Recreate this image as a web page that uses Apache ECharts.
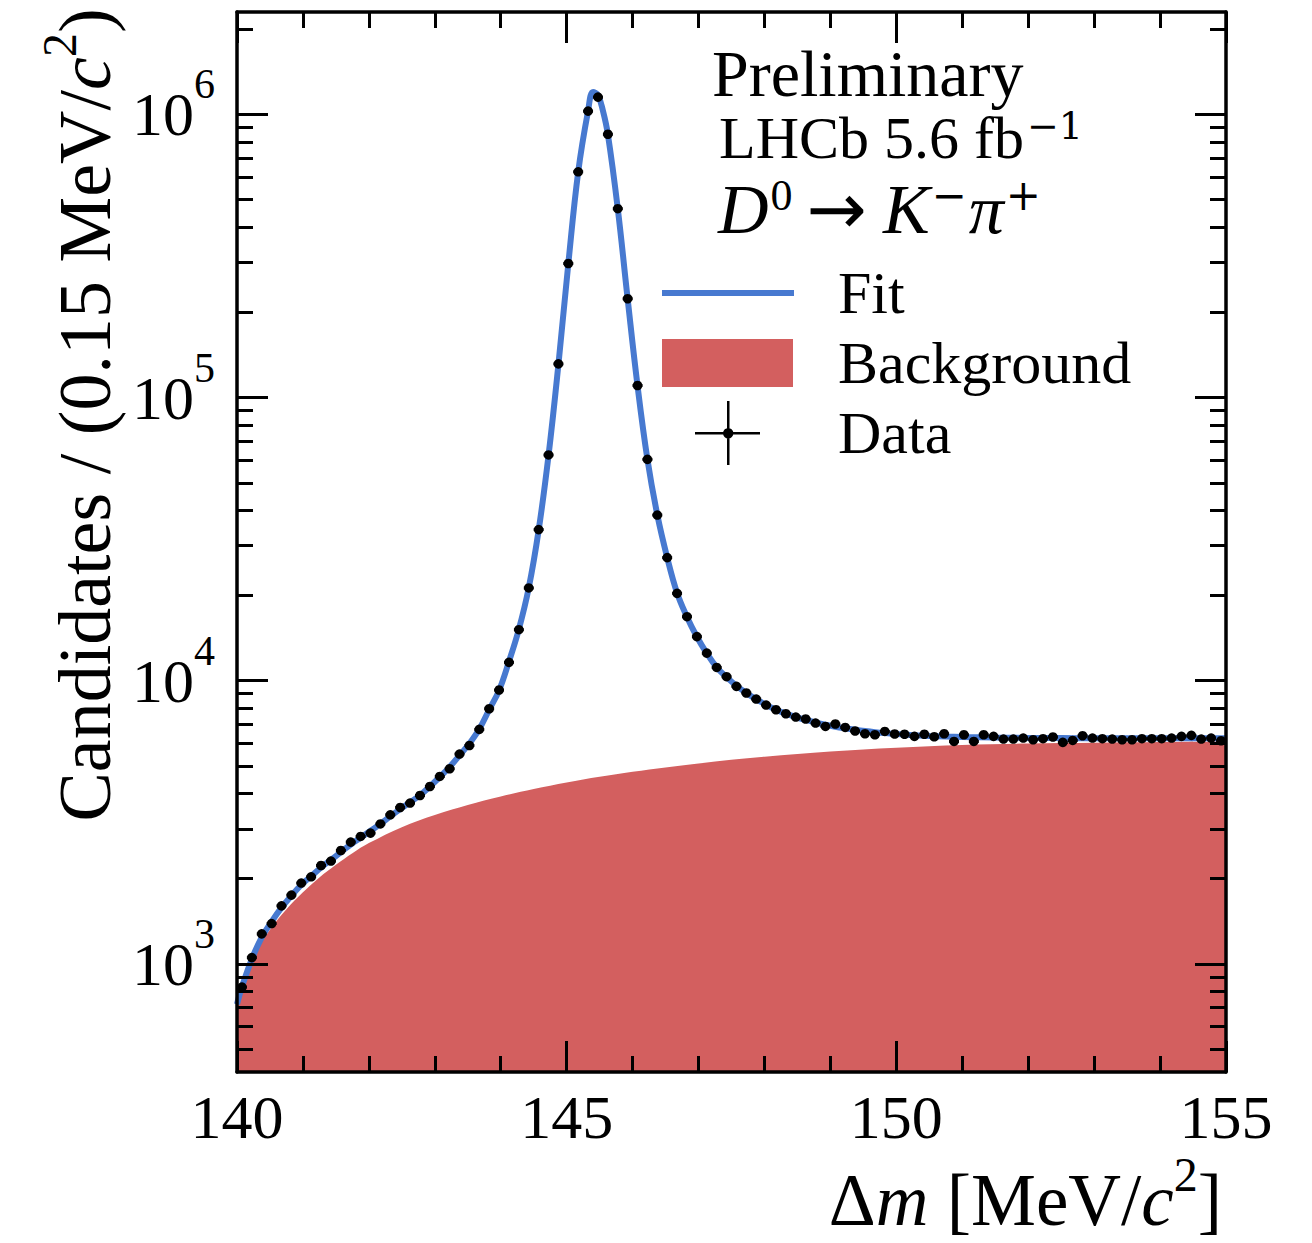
<!DOCTYPE html>
<html>
<head>
<meta charset="utf-8">
<script src="https://cdn.jsdelivr.net/npm/echarts/dist/echarts.min.js"></script>
<style>
html,body{margin:0;padding:0;background:#fff;}
#chart{width:1312px;height:1243px;}
</style>
</head>
<body>
<div id="chart"></div>
<script>
// ---- binning ----
const xStart = 140;
const binWidth = 0.15;

// ---- data: candidates per 0.15 MeV bin (bin centres 140.075 ... 154.925) ----
const dataCounts = [
  828, 1052, 1276, 1388, 1603, 1749, 1929, 2030, 2225, 2307,
  2514, 2692, 2818, 2896, 3120, 3361, 3567, 3697, 3932, 4231,
  4590, 4887, 5508, 5905, 6730, 7960, 9270, 11610, 15140, 21260,
  34170, 62700, 131500, 297500, 627000, 1027000, 1151000, 851000, 464500, 223400,
  110300, 60500, 38470, 27200, 20350, 16830, 14310, 12510, 11140, 10330,
  9550, 9050, 8615, 8205, 7897, 7645, 7442, 7323, 7087, 6895,
  7031, 6839, 6642, 6497, 6445, 6620, 6482, 6470, 6357, 6470,
  6340, 6497, 6103, 6445, 6103, 6445, 6357, 6223, 6223, 6274,
  6187, 6240, 6326, 6054, 6152, 6393, 6274, 6240, 6223, 6187,
  6187, 6240, 6240, 6240, 6274, 6357, 6410, 6223, 6274, 6136
];

// ---- fit curve ----
const fitX = [
  140.000, 140.075, 140.225, 140.375, 140.525, 140.675, 140.825, 140.975, 141.125, 141.275,
  141.425, 141.575, 141.725, 141.875, 142.025, 142.175, 142.325, 142.475, 142.625, 142.775,
  142.925, 143.075, 143.225, 143.375, 143.525, 143.675, 143.825, 143.975, 144.125, 144.275,
  144.425, 144.575, 144.725, 144.875, 145.025, 145.175, 145.325, 145.400, 145.475, 145.550,
  145.625, 145.775, 145.925, 146.075, 146.225, 146.375, 146.525, 146.675, 146.825, 146.975,
  147.125, 147.275, 147.425, 147.575, 147.725, 147.875, 148.025, 148.175, 148.325, 148.475,
  148.625, 148.775, 148.925, 149.075, 149.225, 149.375, 149.525, 149.675, 149.825, 149.975,
  150.250, 150.500, 150.750, 151.000, 151.500, 152.000, 152.500, 153.000, 153.500, 154.000,
  154.500, 155.000
];
const fitY = [
  720, 830, 1040, 1240, 1410, 1580, 1740, 1900, 2040, 2190,
  2330, 2480, 2640, 2790, 2950, 3120, 3320, 3520, 3720, 3940,
  4230, 4570, 4960, 5450, 6000, 6750, 7900, 9250, 11700, 15200,
  21300, 34000, 62500, 131000, 297000, 627000, 1030000, 1200000, 1170000, 1030000,
  850000, 465000, 223000, 110000, 60500, 38500, 27200, 20400, 16800, 14300,
  12500, 11150, 10300, 9600, 9050, 8600, 8220, 7900, 7650, 7440,
  7270, 7120, 6990, 6880, 6790, 6710, 6640, 6580, 6530, 6490,
  6420, 6380, 6350, 6330, 6300, 6280, 6270, 6260, 6260, 6260,
  6260, 6260
];

// ---- background component ----
const bgX = [
  140.00, 140.25, 140.50, 140.75, 141.00, 141.25, 141.50, 141.75, 142.00, 142.50,
  143.00, 143.50, 144.00, 144.50, 145.00, 145.50, 146.00, 147.00, 148.00, 149.00,
  150.00, 151.00, 152.00, 153.00, 154.00, 155.00
];
const bgY = [
  690, 1060, 1320, 1560, 1790, 2020, 2240, 2460, 2670, 3040,
  3355, 3640, 3900, 4145, 4370, 4575, 4765, 5100, 5385, 5620,
  5800, 5930, 6000, 6040, 6075, 6100
];

// ---- axes ticks ----
const yMajorTicks = [1e3, 1e4, 1e5, 1e6];
const yMinorTicks = [
  500, 600, 700, 800, 900,
  2000, 3000, 4000, 5000, 6000, 7000, 8000, 9000,
  20000, 30000, 40000, 50000, 60000, 70000, 80000, 90000,
  200000, 300000, 400000, 500000, 600000, 700000, 800000, 900000,
  2000000
];
const xRange = [140, 155];
const yRange = [415, 2300000];

const FONT = 'Liberation Serif';
const BLUE = '#4779d0';
const RED = '#d35f5f';

const binCenters = dataCounts.map((_, i) => +(xStart + binWidth * (i + 0.5)).toFixed(3));
const dataPairs = binCenters.map((x, i) => [x, dataCounts[i]]);
const fitPairs = fitX.map((x, i) => [x, fitY[i]]);
const bgPairs = bgX.map((x, i) => [x, bgY[i]]);

const chart = echarts.init(document.getElementById('chart'), null, {renderer: 'svg'});

const axisLineStyle = {color: '#000', width: 3.5};
function xAxisDef(pos, showLabel) {
  return {
    type: 'value', position: pos, min: xRange[0], max: xRange[1], interval: 5, z: 10,
    axisLine: {show: true, onZero: false, lineStyle: axisLineStyle},
    axisTick: {show: true, inside: true, length: 31, lineStyle: {color: '#000', width: 3}},
    minorTick: {show: true, splitNumber: 5, length: 16, lineStyle: {color: '#000', width: 3}},
    splitLine: {show: false}, minorSplitLine: {show: false},
    axisLabel: {show: showLabel, color: '#000', fontFamily: FONT, fontSize: 62, margin: 14}
  };
}
function yAxisDef(pos, major) {
  return {
    type: 'log', logBase: 10, position: pos, min: yRange[0], max: yRange[1], z: 10,
    axisLine: {show: major, onZero: false, lineStyle: axisLineStyle},
    axisTick: {show: true, inside: true, length: major ? 31 : 16,
      customValues: major ? yMajorTicks : yMinorTicks,
      lineStyle: {color: '#000', width: 3}},
    splitLine: {show: false},
    axisLabel: (major && pos === 'left') ? {
      show: true, customValues: yMajorTicks, margin: 22,
      formatter: v => '{b|10}{s|' + Math.round(Math.log10(v)) + '}',
      rich: {
        b: {fontFamily: FONT, fontSize: 62, color: '#000'},
        s: {fontFamily: FONT, fontSize: 42, color: '#000', padding: [0, 0, 60, 0]}
      }
    } : {show: false}
  };
}

const fitIcon = 'path://M0,0L0,0ZM171,64L171,64ZM0,29L132,29L132,35L0,35Z';
const bgIcon = 'path://M0,0L0,0ZM171,64L171,64ZM0,8L131,8L131,56L0,56Z';
const dataIcon = 'path://M0,0L0,0ZM171,64L171,64ZM33,31L98,31L98,33.5L33,33.5Z' +
  'M65,0L67.5,0L67.5,64L65,64Z' +
  'M61,32.2A5.2,5.2 0 1,1 71.4,32.2A5.2,5.2 0 1,1 61,32.2Z';

const option = {
  animation: false,
  backgroundColor: '#fff',
  grid: {left: 237, right: 86, top: 12, bottom: 171, containLabel: false},
  xAxis: [xAxisDef('bottom', true), xAxisDef('top', false)],
  yAxis: [yAxisDef('left', true), yAxisDef('left', false), yAxisDef('right', true), yAxisDef('right', false)],
  legend: {
    orient: 'vertical', left: 662, top: 261, padding: 0,
    itemWidth: 171, itemHeight: 64, itemGap: 6,
    symbolKeepAspect: false,
    selectedMode: false,
    itemStyle: {borderWidth: 0},
    textStyle: {fontFamily: FONT, fontSize: 60, color: '#000'},
    data: [
      {name: 'Fit', icon: fitIcon},
      {name: 'Background', icon: bgIcon},
      {name: 'Data', icon: dataIcon}
    ]
  },
  graphic: [
    {type: 'text', x: 712, y: 73, style: {text: 'Preliminary', font: '66px "' + FONT + '"', fill: '#000', align: 'left', verticalAlign: 'middle'}},
    {type: 'text', x: 719, y: 138, style: {
      text: 'LHCb 5.6 fb{s|\u22121}', font: '60px "' + FONT + '"', fill: '#000', align: 'left', verticalAlign: 'middle',
      rich: {s: {fontFamily: 'DejaVu Serif', fontSize: 38, fill: '#000', padding: [0, 0, 24, 3]}}
    }},
    {type: 'text', x: 718, y: 209, style: {
      text: '{i|D}{s|0}{a|\u2192}{i|K}{m|\u2212}{i|\u03c0}{m|+}', font: '62px "' + FONT + '"', fill: '#000', align: 'left', verticalAlign: 'middle',
      rich: {
        i: {fontFamily: FONT, fontSize: 70, fontStyle: 'italic', fill: '#000'},
        a: {fontFamily: 'DejaVu Sans', fontSize: 72, fill: '#000', padding: [0, 16, 0, 14]},
        s: {fontFamily: FONT, fontSize: 44, fill: '#000', padding: [0, 0, 28, 2]},
        m: {fontFamily: 'DejaVu Serif', fontSize: 42, fill: '#000', padding: [0, 2, 28, 2]}
      }
    }},
    {type: 'text', x: 1222, y: 1200, style: {
      text: '\u0394{i|m} [MeV/{i|c}{s|2}]', font: '73px "' + FONT + '"', fill: '#000', align: 'right', verticalAlign: 'middle',
      rich: {
        i: {fontFamily: FONT, fontSize: 73, fontStyle: 'italic', fill: '#000'},
        s: {fontFamily: FONT, fontSize: 48, fill: '#000', padding: [0, 0, 52, 0]}
      }
    }},
    {type: 'text', x: 85, y: 415, rotation: Math.PI / 2, style: {
      text: 'Candidates / (0.15 MeV/{i|c}{s|2})', font: '74px "' + FONT + '"', fill: '#000', align: 'center', verticalAlign: 'middle',
      rich: {
        i: {fontFamily: FONT, fontSize: 74, fontStyle: 'italic', fill: '#000'},
        s: {fontFamily: FONT, fontSize: 48, fill: '#000', padding: [0, 0, 52, 0]}
      }
    }}
  ],
  series: [
    {
      name: 'Background', type: 'line', xAxisIndex: 0, yAxisIndex: 0,
      data: bgPairs, smooth: 0.35, showSymbol: false, symbol: 'none',
      itemStyle: {color: RED}, lineStyle: {width: 0, color: RED},
      areaStyle: {color: RED, opacity: 1, origin: 'start'}, z: 1, silent: true
    },
    {
      name: 'Fit', type: 'line', xAxisIndex: 0, yAxisIndex: 0,
      data: fitPairs, smooth: 0.4, showSymbol: false, symbol: 'none',
      itemStyle: {color: BLUE}, lineStyle: {width: 6, color: BLUE}, z: 2, silent: true
    },
    {
      name: 'Data', type: 'custom', xAxisIndex: 0, yAxisIndex: 0,
      data: dataPairs, encode: {x: 0, y: 1}, itemStyle: {color: '#000'}, z: 3, silent: true,
      renderItem: function (params, api) {
        const x = api.value(0), y = api.value(1);
        const a = api.coord([x - binWidth / 2, y]);
        const b = api.coord([x + binWidth / 2, y]);
        const c = api.coord([x, y]);
        return {
          type: 'group',
          children: [
            {type: 'line', shape: {x1: a[0], y1: a[1], x2: b[0], y2: b[1]}, style: {stroke: '#000', lineWidth: 3}},
            {type: 'circle', shape: {cx: c[0], cy: c[1], r: 4.8}, style: {fill: '#000'}}
          ]
        };
      }
    }
  ]
};
chart.setOption(option);
</script>
</body>
</html>
